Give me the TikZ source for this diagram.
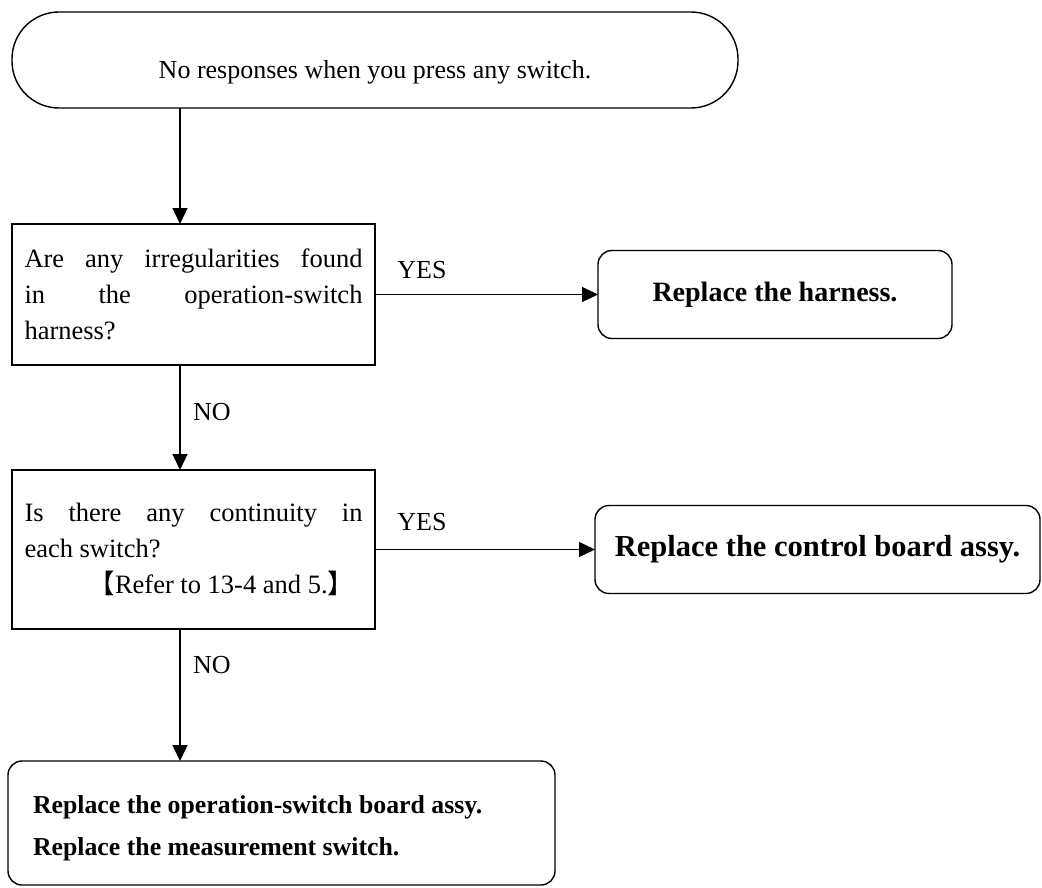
\documentclass[tikz,border=0pt]{standalone}
\usepackage{fontspec}
\setmainfont{Liberation Serif}
\newfontfamily\cjkfont{Noto Sans CJK SC}
\usetikzlibrary{arrows.meta}
% move a box's content down without changing the box itself
\newcommand{\lowerby}[2]{\raisebox{-#1}[\height][\depth]{#2}}
\begin{document}
\begin{tikzpicture}[x=1pt,y=-1pt,
  every node/.style={inner sep=0pt, outer sep=0pt},
  stepline/.style={line width=1.4pt, draw=black},
  qbox/.style={stepline, rectangle, font=\fontsize{26.5}{36}\selectfont},
  actbox/.style={stepline, rectangle, rounded corners=14pt, font=\bfseries},
  flow/.style={line width=1.4pt, -{Triangle[length=16pt,width=15pt]}},
  tag/.style={font=\fontsize{26}{30}\selectfont}
]
\useasboundingbox (0,0) rectangle (1042,888);

% start terminal
\node[stepline, rectangle, rounded corners=47pt, minimum width=726pt, minimum height=96pt,
      font=\fontsize{26}{30}\selectfont] (start) at (375,60)
  {\lowerby{12pt}{No responses when you press any switch.}};

% first check
\node[qbox, minimum width=363pt, minimum height=141pt, text width=338pt, align=justify] (q1) at (193.5,294.5)
  {Are any irregularities found\break in the operation-switch\break harness?};

% harness replacement
\node[actbox, minimum width=354pt, minimum height=88pt, font=\fontsize{28}{32}\selectfont\bfseries] (harness) at (775,294.5)
  {Replace the harness.};

% second check
\node[qbox, minimum width=363pt, minimum height=159pt, text width=338pt, align=justify] (q2) at (193.5,549.5)
  {Is there any continuity in\break each switch?\newline\hspace*{64pt}{\cjkfont 【}Refer to 13-4 and 5.{\cjkfont 】}};

% control board replacement
\node[actbox, minimum width=445pt, minimum height=88pt, font=\fontsize{30.5}{34}\selectfont\bfseries] (control) at (817.5,549.5)
  {Replace the control board assy.};

% final replacement
\node[actbox, minimum width=547pt, minimum height=124pt, font=\fontsize{25.8}{42}\selectfont\bfseries] (final) at (281.5,823)
  {\lowerby{5pt}{\parbox{497pt}{Replace the operation-switch board assy.\\Replace the measurement switch.}}};

% vertical flow column
\coordinate (col) at (180,0);

\draw[flow] (start.south -| col) -- (q1.north -| col);
\draw[flow] (q1.south -| col) -- (q2.north -| col);
\draw[flow] (q2.south -| col) -- (final.north -| col);
\draw[flow] (q1.east) -- (harness.west);
\draw[flow] (q2.east) -- (control.west);

% branch labels
\node[tag] (yes1) at (422,270) {YES};
\node[tag] (yes2) at (422,522) {YES};
\node[tag] (no1) at (212,412) {NO};
\node[tag] (no2) at (212,665) {NO};
\end{tikzpicture}
\end{document}
